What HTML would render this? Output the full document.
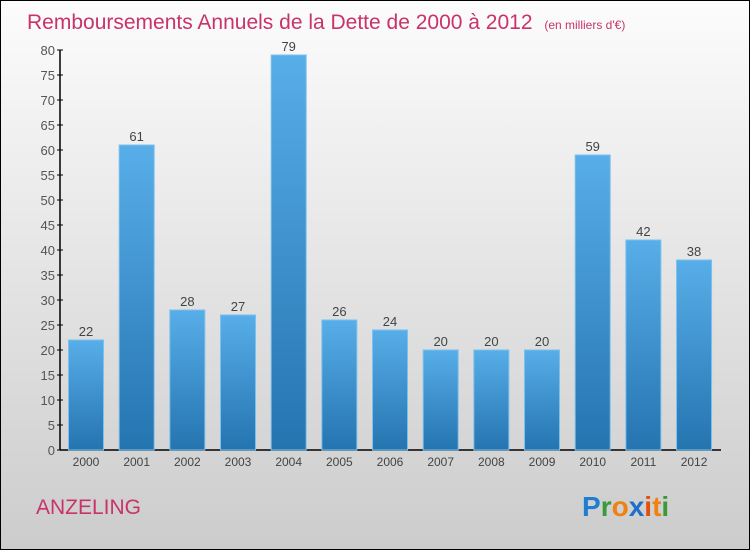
<!DOCTYPE html>
<html><head><meta charset="utf-8"><style>
body{margin:0;width:750px;height:550px;overflow:hidden}
svg{display:block}
text{font-family:"Liberation Sans",sans-serif}
</style></head><body>
<svg id="c" width="750" height="550" xmlns="http://www.w3.org/2000/svg">
<defs>
<linearGradient id="bg" x1="0" y1="0" x2="0" y2="1"><stop offset="0" stop-color="#fcfcfc"/><stop offset="1" stop-color="#cccccc"/></linearGradient>
<linearGradient id="bar" x1="0" y1="0" x2="0" y2="1"><stop offset="0" stop-color="#58aee8"/><stop offset="1" stop-color="#2474b0"/></linearGradient>
</defs>
<rect x="0.5" y="0.5" width="749" height="549" fill="url(#bg)" stroke="#000"/>
<text x="27" y="29" font-size="21" fill="#c8336a">Remboursements Annuels de la Dette de 2000 à 2012 <tspan font-size="12" dx="6">(en milliers d'€)</tspan></text>
<text x="36" y="514" font-size="21" fill="#c8336a">ANZELING</text>
<g font-size="28" font-weight="bold" font-family="Liberation Sans,sans-serif">
<text x="582" y="516"><tspan fill="#1e7fd0">P</tspan><tspan fill="#3a9a3a">r</tspan><tspan fill="#f08010">o</tspan><tspan fill="#1e6fc8">x</tspan><tspan fill="#e05010">i</tspan><tspan fill="#f08010">t</tspan><tspan fill="#3a9a3a">i</tspan></text>
</g>
<g id="plot"></g>
</svg>
<script>
const years=["2000","2001","2002","2003","2004","2005","2006","2007","2008","2009","2010","2011","2012"];
const values=[22,61,28,27,79,26,24,20,20,20,59,42,38];
const yTicks=[0,5,10,15,20,25,30,35,40,45,50,55,60,65,70,75,80];
const NS="http://www.w3.org/2000/svg";
const g=document.getElementById('plot');
const y=v=>450-v*5;
const x=i=>86+i*50.67;
function mk(t,a){const e=document.createElementNS(NS,t);for(const k in a)e.setAttribute(k,a[k]);g.appendChild(e);return e;}
let ax=mk('line',{x1:60,y1:50,x2:60,y2:450,stroke:'#000','stroke-width':1.5});


let bx=mk('line',{x1:60,y1:450,x2:721,y2:450,stroke:'#000','stroke-width':1.5});


yTicks.forEach(v=>{
 let tk=mk('line',{x1:57,y1:y(v),x2:63,y2:y(v),stroke:'#000'});
 
 
 let t=mk('text',{x:55,y:y(v)+5,'text-anchor':'end','font-size':13,fill:'#555'});
 t.textContent=v;
 
 
});
values.forEach((v,i)=>{
 let r=mk('rect',{x:x(i)-17.5,y:y(v),width:35,height:v*5,fill:'url(#bar)',stroke:'#7cc0ee','stroke-width':1});
 
 
 let l=mk('text',{x:x(i),y:y(v)-4,'text-anchor':'middle','font-size':13,fill:'#444'});
 l.textContent=v;
 
 
 let xt=mk('text',{x:x(i),y:466,'text-anchor':'middle','font-size':12,fill:'#444'});
 xt.textContent=years[i];
 
 
});
</script>
</body></html>
